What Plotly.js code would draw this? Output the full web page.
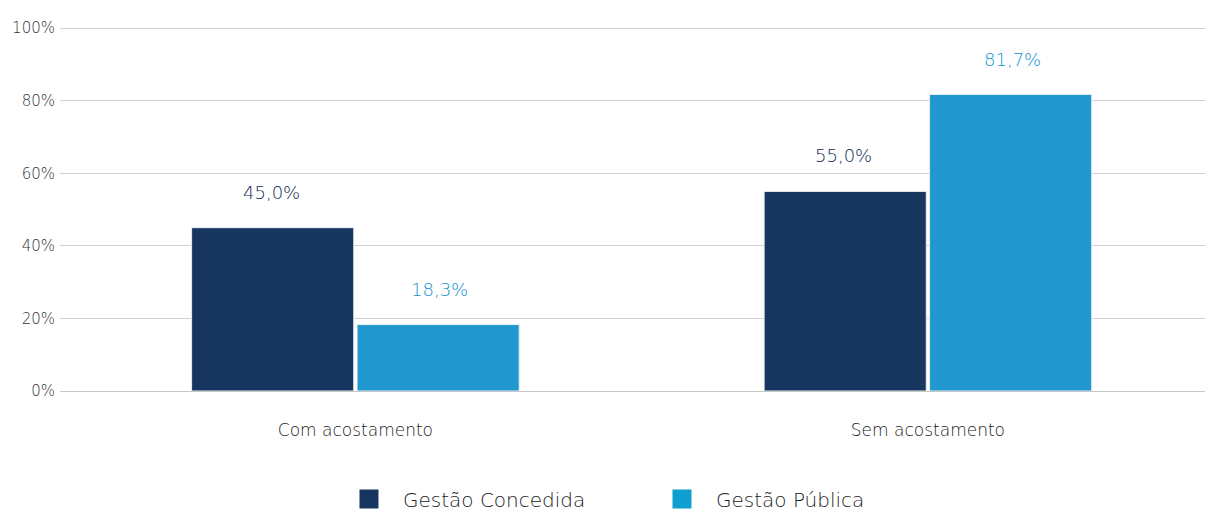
<!DOCTYPE html>
<html><head><meta charset="utf-8">
<script src="https://cdn.plot.ly/plotly-3.0.1.min.js"></script>
<style>body{margin:0;background:#fff}#chart{width:1205px;height:511px}</style>
</head><body><div id="chart"></div>
<script>
const categories = ["Com acostamento", "Sem acostamento"];
const seriesNames = ["Gestão Concedida", "Gestão Pública"];
const concedida = [45.0, 55.0];
const publica = [18.3, 81.7];
const yTicks = [0, 20, 40, 60, 80, 100];

const colors = ["#17365f", "#2098cf"];
const legendColors = ["#17365f", "#0d9fd0"];
const labelColors = ["#102a55", "#0f92d0"];
const FONT = '"DejaVu Sans", sans-serif';
const fmt = v => v.toFixed(1).replace('.', ',') + '%';

const traces = [concedida, publica].map((vals, i) => ({
  type: 'bar', name: seriesNames[i], x: categories, y: vals,
  marker: {color: colors[i], line: {color: '#e8eef5', width: 1}},
  hoverinfo: 'skip', showlegend: false
}));
// legend-only entries with larger square swatches
seriesNames.forEach((n, i) => traces.push({
  type: 'scatter', mode: 'markers', name: n, x: [null], y: [null],
  marker: {symbol: 'square', size: 16, color: legendColors[i],
           line: {color: legendColors[i], width: 3}}, showlegend: true
}));

const annotations = [];
[concedida, publica].forEach((vals, i) => {
  vals.forEach((v, j) => {
    annotations.push({
      x: j + (i === 0 ? -0.147 : 0.147), y: v, xref: 'x', yref: 'y',
      text: fmt(v), showarrow: false, yanchor: 'bottom', yshift: 23,
      font: {family: FONT, size: 18, weight: 300, color: labelColors[i]}
    });
  });
});

const layout = {
  width: 1205, height: 511,
  margin: {l: 60, r: 0, t: 27, b: 120},
  paper_bgcolor: '#fff', plot_bgcolor: '#fff',
  barmode: 'group', bargap: 0.422, bargroupgap: 0.02,
  font: {family: FONT, weight: 300, color: '#222'},
  xaxis: {type: 'category', range: [-0.516, 1.484], showgrid: false, showline: false,
          zeroline: false, ticks: '', ticklabelstandoff: 27,
          tickfont: {family: FONT, size: 17, weight: 300, color: '#222'}},
  yaxis: {range: [0, 100.3], tickvals: yTicks, ticktext: yTicks.map(t => t + '%'),
          gridcolor: '#d0d0d0', gridwidth: 1, zeroline: true, zerolinecolor: '#c8c8c8',
          showline: false, ticks: '', ticklabelstandoff: 4,
          tickfont: {family: FONT, size: 15, weight: 300, color: '#333'}},
  showlegend: true,
  legend: {orientation: 'h', x: 0.278, xanchor: 'left', xref: 'container',
           y: 0.0235, yanchor: 'middle', yref: 'container',
           font: {family: FONT, size: 20, weight: 300, color: '#222'},
           itemwidth: 58, traceorder: 'normal', itemsizing: 'trace',
           entrywidth: 240, entrywidthmode: 'pixels'},
  annotations: annotations
};

Plotly.newPlot('chart', traces, layout, {displayModeBar: false, staticPlot: true});
</script></body></html>
